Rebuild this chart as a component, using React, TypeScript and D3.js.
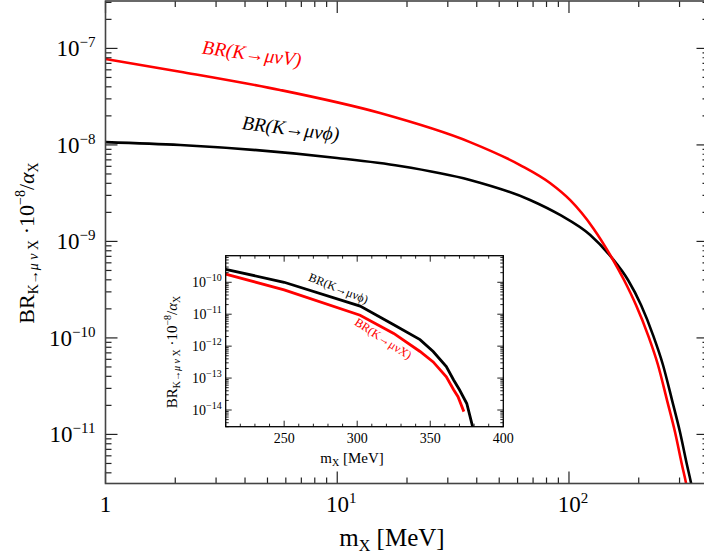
import React from 'react';
import * as d3 from 'd3';

// Main panel data (m_X in MeV, BR values)
const mainMassV = [1, 2.1, 5.66, 15.3, 37.4, 61.5, 82.8, 101, 127, 153.3, 172.8, 194.6, 219.3, 242.2, 264.8, 286.8, 307.4, 319.9, 329.6];
const mainBrV = [7.76e-8, 5.74e-8, 3.71e-8, 2.14e-8, 1.07e-8, 6.19e-9, 4.03e-9, 2.69e-9, 1.38e-9, 6.73e-10, 3.98e-10, 2.19e-10, 1.07e-10, 5.24e-11, 2.27e-11, 1.06e-11, 4.82e-12, 3.13e-12, 2.09e-12];
const mainMassPhi = [1, 2.1, 9.98, 18.66, 37.4, 67.9, 91.5, 123.2, 153.3, 179.8, 204.6, 230.5, 254.5, 278.4, 301.3, 323.1, 336.3, 346.4];
const mainBrPhi = [1.07e-8, 9.98e-9, 7.32e-9, 6.05e-9, 4.33e-9, 2.69e-9, 1.88e-9, 1.17e-9, 6.73e-10, 3.98e-10, 2.19e-10, 1.07e-10, 5.24e-11, 2.27e-11, 1.06e-11, 4.82e-12, 3.13e-12, 2.09e-12];

// Inset data
const insetMassPhi = [210, 250, 302, 325, 343, 352, 361, 366, 370, 375, 379, 381];
const insetBrPhi = [2.55e-10, 1.0e-10, 1.8e-11, 4.7e-12, 1.6e-12, 6.8e-13, 2.3e-13, 8.7e-14, 4.3e-14, 1.6e-14, 3e-15, 1.5e-15];
const insetMassV = [210, 250, 302, 325, 343, 352, 361, 366, 369, 373];
const insetBrV = [1.8e-10, 5.8e-11, 9.3e-12, 2.5e-12, 6.8e-13, 3.2e-13, 1.1e-13, 4.3e-14, 2.6e-14, 8.9e-15];

// Tick labels
const mainXTicks = [1, 10, 100];
const mainXTickSup = ['', '1', '2'];
const mainYTicks = [1e-7, 1e-8, 1e-9, 1e-10, 1e-11];
const mainYTickSup = ['−7', '−8', '−9', '−10', '−11'];
const insetXTicks = [250, 300, 350, 400];
const insetYTicks = [1e-10, 1e-11, 1e-12, 1e-13, 1e-14];
const insetYTickSup = ['−10', '−11', '−12', '−13', '−14'];

const FONT = "'Liberation Serif', 'DejaVu Serif', serif";

function logMinors(lo: number, hi: number): number[] {
  const out: number[] = [];
  const e0 = Math.floor(Math.log10(lo));
  const e1 = Math.ceil(Math.log10(hi));
  for (let e = e0; e <= e1; e++) {
    for (let k = 2; k <= 9; k++) {
      const v = k * Math.pow(10, e);
      if (v >= lo && v <= hi) out.push(v);
    }
  }
  return out;
}

export default function App() {
  const W = 704, H = 554;
  const M = { l: 105.5, r: 708.5, t: 1, b: 483.5 };
  const x = d3.scaleLog().domain([1, 400]).range([M.l, M.r]);
  const y = d3.scaleLog().domain([3.1e-12, 3.1e-7]).range([M.b, M.t]);

  const I = { l: 225.7, r: 503.3, t: 255.7, b: 426.7 };
  const xi = d3.scaleLinear().domain([210, 400]).range([I.l, I.r]);
  const yi = d3.scaleLog().domain([3e-15, 6.8e-10]).range([I.b, I.t]);

  const lineMain = (ms: number[], bs: number[]) =>
    d3.line<number>().x((_, i) => x(ms[i])).y((_, i) => y(bs[i])).curve(d3.curveMonotoneX)(ms) || '';
  const lineInset = (ms: number[], bs: number[]) =>
    d3.line<number>().x((_, i) => xi(ms[i])).y((_, i) => yi(bs[i])).curve(d3.curveLinear)(ms) || '';

  const xMinor = logMinors(1, 400);
  const yMinor = logMinors(3.1e-12, 3.1e-7);
  const yiMinor = logMinors(3e-15, 6.8e-10);
  const xiMinor = d3.range(210, 401, 10).filter(v => v % 50 !== 0);

  const axisColor = '#444';
  const tk = { stroke: '#222', strokeWidth: 1.2 };

  return (
    <svg width={W} height={H} style={{ position: 'absolute', left: 0, top: 0, background: '#fff' }} fontFamily={FONT}>
      <defs>
        <clipPath id="mainClip"><rect x={M.l} y={M.t} width={M.r - M.l} height={M.b - M.t} /></clipPath>
        <clipPath id="insetClip"><rect x={I.l} y={I.t} width={I.r - I.l} height={I.b - I.t} /></clipPath>
      </defs>
      <rect x={0} y={0} width={W} height={H} fill="#fff" />

      {/* main curves */}
      <g clipPath="url(#mainClip)">
        <path d={lineMain(mainMassPhi, mainBrPhi)} fill="none" stroke="#000" strokeWidth={2.6} />
        <path d={lineMain(mainMassV, mainBrV)} fill="none" stroke="#ff0000" strokeWidth={2.6} />
      </g>

      {/* main ticks */}
      <g {...tk}>
        {mainXTicks.map(v => (
          <g key={'xm' + v}>
            <line x1={x(v)} x2={x(v)} y1={M.b} y2={M.b - 12} />
            <line x1={x(v)} x2={x(v)} y1={M.t} y2={M.t + 12} />
          </g>
        ))}
        {xMinor.map(v => (
          <g key={'xn' + v}>
            <line x1={x(v)} x2={x(v)} y1={M.b} y2={M.b - 6} />
            <line x1={x(v)} x2={x(v)} y1={M.t} y2={M.t + 6} />
          </g>
        ))}
        {mainYTicks.map(v => (
          <g key={'ym' + v}>
            <line x1={M.l} x2={M.l + 12} y1={y(v)} y2={y(v)} />
            <line x1={M.r} x2={M.r - 12} y1={y(v)} y2={y(v)} />
          </g>
        ))}
        {yMinor.map(v => (
          <g key={'yn' + v}>
            <line x1={M.l} x2={M.l + 6} y1={y(v)} y2={y(v)} />
            <line x1={M.r} x2={M.r - 6} y1={y(v)} y2={y(v)} />
          </g>
        ))}
      </g>
      <rect x={M.l} y={M.t} width={M.r - M.l} height={M.b - M.t} fill="none" stroke={axisColor} strokeWidth={1.6} />

      {/* main tick labels */}
      {mainXTicks.map((v, i) => (
        <text key={'xl' + v} x={x(v) + (i === 0 ? 0 : 4)} y={512} fontSize={23} textAnchor="middle" fill="#000">
          {i === 0 ? '1' : '10'}
          {mainXTickSup[i] && <tspan fontSize={15} dy={-9}>{mainXTickSup[i]}</tspan>}
        </text>
      ))}
      {mainYTicks.map((v, i) => (
        <text key={'yl' + v} x={M.l - 10} y={y(v) + 8} fontSize={23} textAnchor="end" fill="#000">
          10<tspan fontSize={15} dy={-9}>{mainYTickSup[i]}</tspan>
        </text>
      ))}

      {/* main axis titles */}
      <text x={392} y={546} fontSize={25} textAnchor="middle" fill="#000">
        m<tspan fontSize={16} dy={5}>X</tspan><tspan dy={-5}> [MeV]</tspan>
      </text>
      <text transform="translate(34,243) rotate(-90)" fontSize={22} textAnchor="middle" fill="#000">
        BR<tspan fontSize={14} dy={4}>K→<tspan fontStyle="italic">μ ν</tspan> X</tspan>
        <tspan dy={-4}> ·10</tspan><tspan fontSize={14} dy={-9}>−8</tspan>
        <tspan dy={9}>/</tspan><tspan fontStyle="italic">α</tspan><tspan fontSize={14} dy={4}>X</tspan>
      </text>

      {/* main curve labels */}
      <text transform="translate(251,60) rotate(7.5)" fontSize={19.5} fontStyle="italic" textAnchor="middle" fill="#ff0000">
        BR(K→μνV)
      </text>
      <text transform="translate(290,135) rotate(7)" fontSize={19.5} fontStyle="italic" textAnchor="middle" fill="#000">
        BR(K→μνϕ)
      </text>

      {/* inset */}
      <rect x={I.l} y={I.t} width={I.r - I.l} height={I.b - I.t} fill="#fff" />
      <g clipPath="url(#insetClip)">
        <path d={lineInset(insetMassPhi, insetBrPhi)} fill="none" stroke="#000" strokeWidth={2.8} />
        <path d={lineInset(insetMassV, insetBrV)} fill="none" stroke="#ff0000" strokeWidth={2.8} />
      </g>
      <g stroke="#222" strokeWidth={1}>
        {insetXTicks.map(v => (
          <g key={'ixm' + v}>
            <line x1={xi(v)} x2={xi(v)} y1={I.b} y2={I.b - 6} />
            <line x1={xi(v)} x2={xi(v)} y1={I.t} y2={I.t + 6} />
          </g>
        ))}
        {xiMinor.map(v => (
          <g key={'ixn' + v}>
            <line x1={xi(v)} x2={xi(v)} y1={I.b} y2={I.b - 3} />
            <line x1={xi(v)} x2={xi(v)} y1={I.t} y2={I.t + 3} />
          </g>
        ))}
        {insetYTicks.map(v => (
          <g key={'iym' + v}>
            <line x1={I.l} x2={I.l + 6} y1={yi(v)} y2={yi(v)} />
            <line x1={I.r} x2={I.r - 6} y1={yi(v)} y2={yi(v)} />
          </g>
        ))}
        {yiMinor.map(v => (
          <g key={'iyn' + v}>
            <line x1={I.l} x2={I.l + 3} y1={yi(v)} y2={yi(v)} />
            <line x1={I.r} x2={I.r - 3} y1={yi(v)} y2={yi(v)} />
          </g>
        ))}
      </g>
      <rect x={I.l} y={I.t} width={I.r - I.l} height={I.b - I.t} fill="none" stroke="#000" strokeWidth={1.3} />

      {insetXTicks.map(v => (
        <text key={'ixl' + v} x={xi(v)} y={443} fontSize={14} textAnchor="middle" fill="#000">{v}</text>
      ))}
      {insetYTicks.map((v, i) => (
        <text key={'iyl' + v} x={I.l - 4} y={yi(v) + 5} fontSize={14} textAnchor="end" fill="#000">
          10<tspan fontSize={10} dy={-6}>{insetYTickSup[i]}</tspan>
        </text>
      ))}
      <text x={352} y={463} fontSize={15} textAnchor="middle" fill="#000">
        m<tspan fontSize={10} dy={3}>X</tspan><tspan dy={-3}> [MeV]</tspan>
      </text>
      <text transform="translate(177,352) rotate(-90)" fontSize={15} textAnchor="middle" fill="#000">
        BR<tspan fontSize={10} dy={3}>K→<tspan fontStyle="italic">μ ν</tspan> X</tspan>
        <tspan dy={-3}> ·10</tspan><tspan fontSize={10} dy={-6}>−8</tspan>
        <tspan dy={6}>/</tspan><tspan fontStyle="italic">α</tspan><tspan fontSize={10} dy={3}>X</tspan>
      </text>

      <text transform="translate(337,292) rotate(22)" fontSize={12} textAnchor="middle" fill="#000">
        BR(K→μνϕ)
      </text>
      <text transform="translate(381,342) rotate(33)" fontSize={12} textAnchor="middle" fill="#ff0000">
        BR(K→μνX)
      </text>
    </svg>
  );
}
